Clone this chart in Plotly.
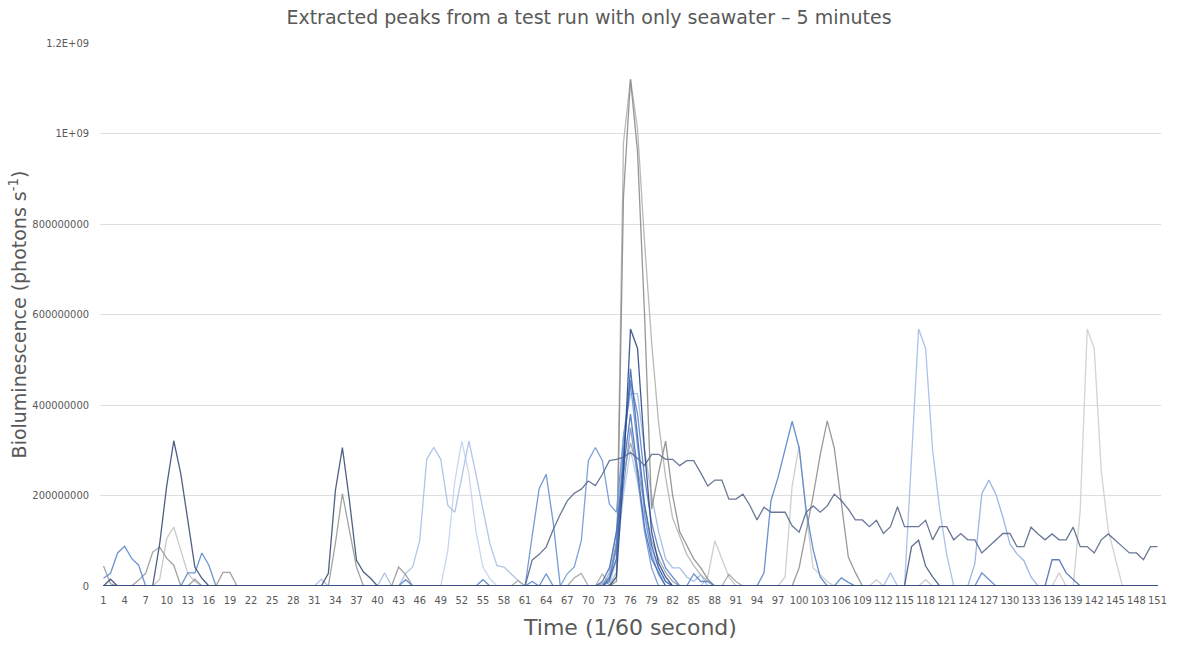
import plotly.graph_objects as go

# Time categories (1/60 s frames)
times = list(range(1, 152))
x_tick_vals = list(range(1, 152, 3))
x_tick_text = [str(t) for t in x_tick_vals]
y_tick_vals = [0, 2e8, 4e8, 6e8, 8e8, 1e9, 1.2e9]
y_tick_text = ["0", "200000000", "400000000", "600000000", "800000000", "1E+09", "1.2E+09"]

# Each series: list of (start_time, values in millions of photons/s); other frames are 0
slate_long = [(61, [0, 57, 70, 86, 125, 158, 188, 205, 214, 232,
                    222, 247, 277, 280, 285, 295, 282, 266, 291, 291,
                    280, 280, 266, 277, 277, 250, 221, 234, 234, 192,
                    192, 203, 178, 146, 174, 163, 163, 163, 133, 119,
                    163, 177, 163, 177, 203, 189, 170, 146, 146, 131,
                    145, 116, 131, 175, 131, 131, 131, 145, 102, 131,
                    131, 102, 116, 102, 102, 73, 87, 102, 116, 116,
                    87, 87, 130, 115, 102, 115, 102, 102, 130, 87,
                    87, 73, 102, 115, 102, 87, 73, 73, 58, 87, 87])]
navy_early = [(1, [0, 15, 0, 0, 0, 0, 0, 0, 94, 222, 321, 248, 145, 42, 17, 0]),
              (33, [28, 211, 306, 189, 57, 31, 17, 0])]
gray_early = [(1, [44, 5, 0, 0, 0, 13, 28, 75, 86, 61, 46, 0, 0, 15, 0]),
              (18, [30, 30, 0]),
              (33, [0, 94, 204, 123, 42, 0]),
              (42, [0, 42, 25, 0])]
lightgray_early = [(8, [0, 15, 105, 130, 79, 28, 10, 0])]
blue_early = [(1, [17, 28, 73, 88, 61, 46, 0]),
              (13, [29, 29, 73, 46, 0])]
lightblue_48 = [(31, [0, 15, 0]),
                (40, [0, 29, 0, 0, 28, 42, 100, 280, 306, 280, 178, 163, 240, 320,
                      247, 174, 93, 45, 42, 27, 12, 0])]
paleblue_52 = [(49, [0, 78, 232, 320, 247, 122, 42, 16, 0])]
blue_small = [(43, [0, 14, 0]), (54, [0, 14, 0]), (61, [0, 10, 0, 27, 0]),
              (84, [0, 27, 10, 10, 0]), (105, [0, 18, 8, 0]), (125, [0, 29, 15, 0])]
blue_64 = [(61, [0, 110, 215, 247, 140, 0])]
blue_71 = [(66, [0, 27, 42, 100, 277, 306, 277, 181, 163, 330, 445, 310, 160, 70, 25, 0])]
gray_small = [(59, [0, 12, 0]), (67, [0, 18, 28, 0]), (71, [0, 27, 0]), (89, [0, 26, 10, 0])]
gray_tall_a = [(73, [0, 30, 980, 1120, 1010, 760, 540, 360, 240, 150, 110, 70, 45, 25, 10, 0])]
gray_tall_b = [(73, [0, 10, 860, 1120, 960, 600, 170, 250, 320, 200, 120, 90, 60, 40, 15, 0])]
gray_76 = [(71, [0, 5, 20, 100, 250, 316, 260, 180, 100, 60, 30, 10, 0])]
lightgray_88 = [(86, [0, 20, 100, 60, 20, 0])]
lightgray_100 = [(97, [0, 20, 220, 310, 160, 40, 25, 10, 0]),
                 (110, [0, 14, 0]), (117, [0, 14, 0]), (136, [0, 29, 0])]
gray_104 = [(99, [0, 40, 120, 200, 290, 365, 305, 185, 64, 30, 0])]
blue_99 = [(94, [0, 29, 189, 240, 305, 364, 305, 167, 80, 20, 0])]
lightblue_117 = [(112, [0, 29, 0, 0, 300, 568, 525, 300, 170, 70, 0])]
lightblue_127 = [(124, [0, 49, 204, 234, 203, 152, 93, 71, 56, 20, 0])]
navy_117 = [(115, [0, 87, 101, 44, 20, 0])]
blue_137 = [(135, [0, 58, 58, 29, 14, 0])]
lightgray_141 = [(139, [0, 167, 568, 525, 254, 123, 64, 0])]
peak_c1 = [(73, [0, 20, 250, 568, 525, 300, 120, 50, 20, 0])]
peak_c2 = [(72, [0, 15, 60, 280, 480, 330, 180, 90, 40, 10, 0])]
peak_c3 = [(73, [10, 90, 300, 455, 380, 240, 140, 80, 40, 20, 0])]
peak_c4 = [(73, [30, 120, 330, 425, 425, 300, 200, 120, 60, 40, 40, 20, 10, 25, 0])]
peak_c5 = [(72, [10, 40, 120, 260, 380, 260, 130, 60, 30, 0])]
peak_c6 = [(72, [0, 20, 80, 220, 350, 240, 120, 40, 0])]
peak_c7 = [(73, [0, 60, 200, 300, 230, 150, 80, 40, 10, 0])]

series = [
    ("lightgray_141", lightgray_141, "#cfcfcf"),
    ("lightgray_100", lightgray_100, "#cbcbcb"),
    ("lightgray_88", lightgray_88, "#c8c8c8"),
    ("lightgray_early", lightgray_early, "#c4c4c4"),
    ("paleblue_52", paleblue_52, "#c3d3ee"),
    ("lightblue_48", lightblue_48, "#a9c0e6"),
    ("lightblue_117", lightblue_117, "#a2bde6"),
    ("lightblue_127", lightblue_127, "#92b0e0"),
    ("peak_c7", peak_c7, "#b6c9eb"),
    ("peak_c4", peak_c4, "#9fb9e3"),
    ("gray_tall_a", gray_tall_a, "#b3b3b3"),
    ("gray_small", gray_small, "#a8a8a8"),
    ("gray_76", gray_76, "#a0a0a0"),
    ("gray_early", gray_early, "#9a9a9a"),
    ("gray_104", gray_104, "#909090"),
    ("gray_tall_b", gray_tall_b, "#8c8c8c"),
    ("blue_early", blue_early, "#5f8ad0"),
    ("blue_small", blue_small, "#5a86cc"),
    ("blue_64", blue_64, "#6790d2"),
    ("blue_71", blue_71, "#7099d6"),
    ("blue_99", blue_99, "#5884cc"),
    ("peak_c6", peak_c6, "#7497d2"),
    ("peak_c3", peak_c3, "#5b84c8"),
    ("peak_c5", peak_c5, "#4a70b8"),
    ("peak_c2", peak_c2, "#3d68b8"),
    ("blue_137", blue_137, "#4e6fb5"),
    ("navy_117", navy_117, "#4a5a82"),
    ("slate_long", slate_long, "#5a6a8c"),
    ("peak_c1", peak_c1, "#2e4a86"),
    ("navy_early", navy_early, "#3e4f78"),
]


def expand(segments):
    arr = [0.0] * len(times)
    for start, vals in segments:
        for i, v in enumerate(vals):
            arr[start - 1 + i] = v * 1e6
    return arr


fig = go.Figure()
for name, segs, color in series:
    fig.add_trace(go.Scatter(
        x=times, y=expand(segs), mode="lines", name=name,
        line=dict(color=color, width=1.3), opacity=0.9,
        showlegend=False,
    ))

tick_font = dict(family="Liberation Sans Narrow, DejaVu Sans Condensed, Roboto, sans-serif",
                 size=11, color="#595959")

fig.update_layout(
    width=1178, height=646,
    margin=dict(l=100, r=11, t=43, b=57),
    paper_bgcolor="white", plot_bgcolor="white",
    title=dict(text="Extracted peaks from a test run with only seawater – 5 minutes",
               x=0.5, xref="container", xanchor="center",
               y=1 - 17 / 646, yref="container", yanchor="middle",
               font=dict(family="DejaVu Sans", size=19, color="#595959")),
    xaxis=dict(
        range=[0.5, 151.5], tickmode="array", tickvals=x_tick_vals, ticktext=x_tick_text,
        showgrid=False, zeroline=False, showline=False, ticks="",
        tickfont=tick_font, ticklabelstandoff=6,
        title=dict(text="Time (1/60 second)", standoff=13,
                   font=dict(family="DejaVu Sans", size=22, color="#595959")),
    ),
    yaxis=dict(
        range=[0, 1.2e9], tickmode="array", tickvals=y_tick_vals, ticktext=y_tick_text,
        showgrid=True, gridcolor="#dedede", gridwidth=1, zeroline=False, showline=False,
        ticks="", tickfont=dict(family=tick_font["family"], size=11, color="#595959"),
        ticklabelstandoff=10,
        title=dict(text="Bioluminescence (photons s<sup>-1</sup>)", standoff=0,
                   font=dict(family="DejaVu Sans", size=19, color="#595959")),
    ),
)

fig.write_html("out.html")
